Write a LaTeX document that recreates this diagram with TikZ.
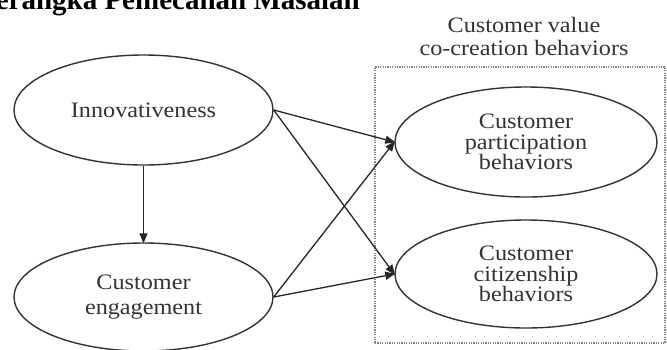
\documentclass[tikz,border=0pt]{standalone}
\usepackage{fontspec}
\setmainfont{Liberation Serif}
\newfontfamily\widefont[FakeStretch=1.1]{Liberation Serif}
\usetikzlibrary{shapes.geometric,arrows.meta}
\begin{document}
\begin{tikzpicture}[x=1pt,y=-1pt,
  construct/.style={ellipse,draw=black!80,line width=1.4pt,inner sep=0pt,
    align=center,text=black!80},
  txt/.style={font=\widefont\fontsize{22}{#1}\selectfont},
  link/.style={draw=black!85,line width=1.3pt,
    -{Triangle[length=10pt,width=8pt]},shorten >=-1pt},
  groupbox/.style={draw=black!50,line width=1.2pt,dash pattern=on 1.2pt off 1.2pt,
    inner sep=0pt}
]
\clip (0,0) rectangle (667,349);
\fill[white] (0,0) rectangle (667,349);

% heading of the section
\node[anchor=base west,inner sep=0pt,
  font=\bfseries\fontsize{29}{29}\selectfont] (heading) at (-27,9)
  {Kerangka Pemecahan Masalah};

% group of value co-creation behaviours
\node[groupbox,minimum width=290pt,minimum height=276pt] (group) at (520,205) {};
\node[txt=23,align=center,text=black!80,inner sep=0pt] (grouptitle) at (524,36)
  {Customer value\\co-creation behaviors};

% constructs
\node[construct,txt=21,minimum width=259pt,minimum height=110pt] (innov) at (143.5,110)
  {Innovativeness};
\node[construct,txt=25,minimum width=259pt,minimum height=108pt] (engage) at (143.5,297)
  {Customer\\engagement};
\node[construct,txt=20.5,minimum width=262pt,minimum height=110pt] (partic) at (526,142)
  {Customer\\participation\\behaviors};
\node[construct,txt=20.5,minimum width=262pt,minimum height=108pt] (citizen) at (526,274)
  {Customer\\citizenship\\behaviors};

% paths
\draw[link] (innov) -- (engage);
\draw[link] (innov.east) -- (partic.west);
\draw[link] (innov.east) -- (citizen.west);
\draw[link] (engage.east) -- (partic.west);
\draw[link] (engage.east) -- (citizen.west);
\end{tikzpicture}
\end{document}
